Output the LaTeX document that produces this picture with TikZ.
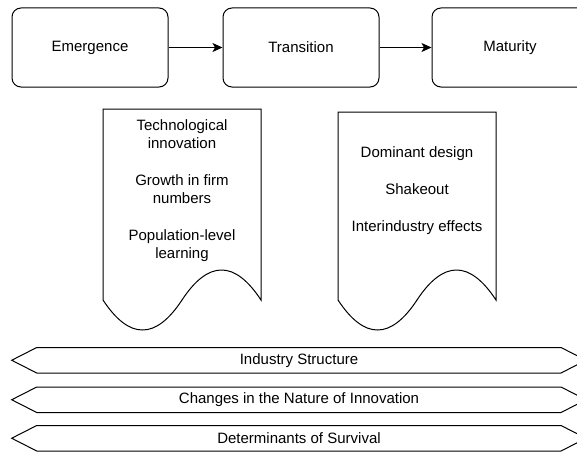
\documentclass[tikz,border=0pt]{standalone}
\usepackage{fontspec}
\setmainfont{Liberation Sans}
\usetikzlibrary{positioning, arrows.meta}

\tikzset{
	stage/.style={draw, rounded corners=9pt, minimum width=156pt, minimum height=79pt},
	flow/.style={-{Stealth[length=10pt,width=9pt,inset=2.5pt]}},
	doclabel/.style={align=center}
}

\begin{document}
\begin{tikzpicture}[x=1pt,y=-1pt,line width=1pt,font=\fontsize{15}{18}\selectfont]
		\clip (0,0) rectangle (577,452);

		% stages
		\node[stage] (emergence) at (90,47.5) {Emergence};
		\node[stage,right=54pt of emergence] (transition) {Transition};
		\node[stage,right=52pt of transition] (maturity) {Maturity};

		\draw[flow] (emergence) -- (transition);
		\draw[flow] (transition) -- (maturity);

		% documents
		\foreach \x/\t in {103/109, 338/112}
			\draw (\x,\t) -- (\x+158,\t) -- (\x+158,300)
				.. controls (\x+131.7,260) and (\x+105.3,260) .. (\x+79,300)
				.. controls (\x+52.7,340) and (\x+26.3,340) .. (\x,300) -- cycle;

		\node[doclabel] (emergencedoc) at (182,190.5)
			{Technological\\innovation\\[19pt]Growth in firm\\numbers\\[19pt]Population-level\\learning};
		\node[doclabel] (transitiondoc) at (417,191)
			{Dominant design\\[19pt]Shakeout\\[19pt]Interindustry effects};

		% themes
		\foreach \y/\txt [count=\i] in {347.5/Industry Structure, 387/Changes in the Nature of Innovation, 425.5/Determinants of Survival}{
			\draw (36.7,\y) -- (561,\y) -- (586,\y+12.75) -- (561,\y+25.5)
				-- (36.7,\y+25.5) -- (11.7,\y+12.75) -- cycle;
			\node (theme\i) at (299,\y+12.75) {\txt};
		}

	\end{tikzpicture}
\end{document}
